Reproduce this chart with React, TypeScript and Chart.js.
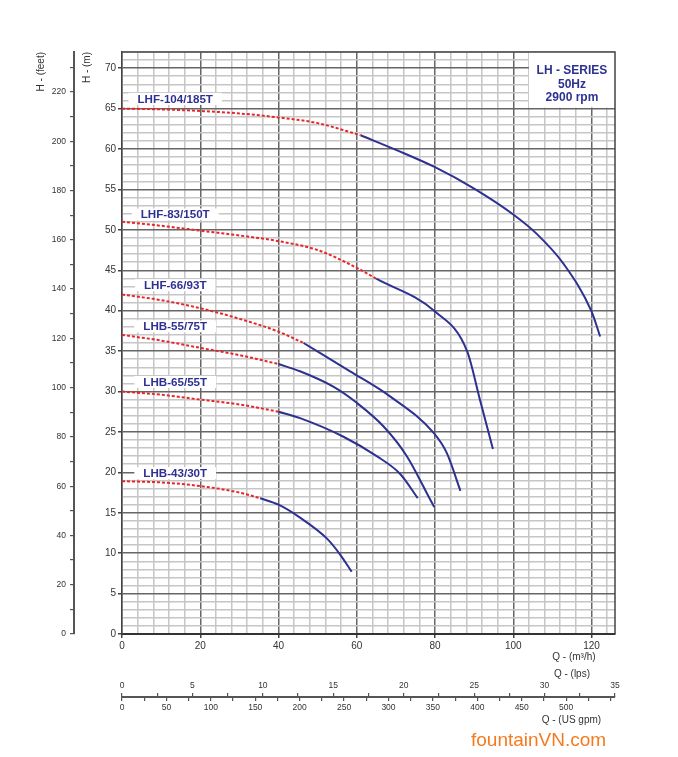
import React, { useEffect, useRef } from 'react';
import { Chart, registerables } from 'chart.js';

Chart.register(...registerables);

const FONT = '"Liberation Sans", Arial, Helvetica, sans-serif';
const BLUE = '#2e3192';
const RED = '#e8262a';
const MAJOR = '#666666';
const MINOR = '#c6c6c6';
const AXIS_TXT = '#333333';

// ---- axis ranges / ticks ----
const Q_MAX = 126; // m3/h
const H_MAX = 72; // m
const FT_MAX = 236.2; // feet (same height as 72 m)
const LPS_MAX = 35;
const GPM_MAX = 555;

// ---- pump names and label anchors (Q m3/h, H m) ----
const pumpNames = ['LHF-104/185T', 'LHF-83/150T', 'LHF-66/93T', 'LHB-55/75T', 'LHB-65/55T', 'LHB-43/30T'];
const labelQ = [13.6, 13.6, 13.6, 13.6, 13.6, 13.6];
const labelH = [66.2, 51.9, 43.15, 38.06, 31.18, 19.9];

// ---- LHF-104/185T ----
const q104Dot = [0, 10, 20, 30, 40, 50, 61];
const h104Dot = [65, 64.9, 64.7, 64.4, 63.9, 63.2, 61.7];
const q104 = [61, 70, 80, 90, 100, 106, 113, 120, 122.2];
const h104 = [61.7, 59.9, 57.75, 55.1, 51.9, 49.5, 45.7, 39.9, 36.8];

// ---- LHF-83/150T ----
const q83Dot = [0, 10, 20, 30, 40, 50, 60, 65];
const h83Dot = [51, 50.5, 49.9, 49.3, 48.6, 47.5, 45.3, 43.95];
const q83 = [65, 80, 88.2, 91.5, 94.8];
const h83 = [43.95, 39.9, 35.0, 28.95, 22.9];

// ---- LHF-66/93T ----
const q66Dot = [0, 10, 20, 30, 40, 46.4];
const h66Dot = [42, 41.3, 40.3, 39.0, 37.4, 36.0];
const q66 = [46.4, 58.3, 68.5, 79.6, 83, 86.5];
const h66 = [36.0, 32.5, 29.4, 24.9, 22.4, 17.7];

// ---- LHB-55/75T ----
const q55Dot = [0, 10, 20, 30, 40];
const h55Dot = [37, 36.3, 35.4, 34.5, 33.4];
const q55 = [40, 45.5, 54, 60, 66.8, 72.8, 78.8, 79.8];
const h55 = [33.4, 32.5, 30.6, 28.6, 25.7, 22.0, 16.6, 15.7];

// ---- LHB-65/55T ----
const q65Dot = [0, 10, 20, 30, 40];
const h65Dot = [30, 29.6, 29.0, 28.4, 27.5];
const q65 = [40, 45.5, 56.6, 65.1, 71.1, 75.6];
const h65 = [27.5, 26.7, 24.4, 22.0, 19.8, 16.8];

// ---- LHB-43/30T ----
const q43Dot = [0, 10, 20, 30, 35.3];
const h43Dot = [18.9, 18.75, 18.3, 17.5, 16.8];
const q43 = [35.3, 40, 45.5, 52.4, 55.8, 58.7];
const h43 = [16.8, 16.0, 14.4, 11.8, 9.8, 7.7];

// ---- series info box ----
const infoLines = ['LH - SERIES', '50Hz', '2900 rpm'];
const infoBoxQ = 104;
const infoBoxH = 65;

const curveParts = [
  [q104Dot, h104Dot, q104, h104],
  [q83Dot, h83Dot, q83, h83],
  [q66Dot, h66Dot, q66, h66],
  [q55Dot, h55Dot, q55, h55],
  [q65Dot, h65Dot, q65, h65],
  [q43Dot, h43Dot, q43, h43],
];

const toPts = (q: number[], h: number[]) => q.map((v, i) => ({ x: v, y: h[i] }));

const decorPlugin = {
  id: 'decor',
  beforeDatasetsDraw(chart: any) {
    const { ctx, chartArea: a, scales } = chart;
    const xs = scales.x;
    const ys = scales.y;
    ctx.save();
    // info box
    const bx = xs.getPixelForValue(infoBoxQ);
    const by = ys.getPixelForValue(infoBoxH);
    ctx.fillStyle = '#ffffff';
    ctx.fillRect(bx, a.top, a.right - bx, by - a.top - 1);
    ctx.fillStyle = BLUE;
    ctx.font = `bold 12px ${FONT}`;
    ctx.textAlign = 'center';
    ctx.textBaseline = 'middle';
    const cx = (bx + a.right) / 2;
    infoLines.forEach((t, i) => ctx.fillText(t, cx, a.top + 19 + i * 13.3));
    // curve labels
    ctx.font = `bold 11.6px ${FONT}`;
    pumpNames.forEach((name, i) => {
      const px = xs.getPixelForValue(labelQ[i]);
      const py = ys.getPixelForValue(labelH[i]);
      const w = ctx.measureText(name).width;
      ctx.fillStyle = '#ffffff';
      ctx.fillRect(px - w / 2 - 9, py - 6, w + 18, 12);
      ctx.fillStyle = BLUE;
      ctx.fillText(name, px, py + 0.5);
    });
    // frame (top + right)
    ctx.strokeStyle = '#444';
    ctx.lineWidth = 1.5;
    ctx.beginPath();
    ctx.moveTo(a.left, a.top);
    ctx.lineTo(a.right, a.top);
    ctx.lineTo(a.right, a.bottom);
    ctx.stroke();
    ctx.restore();
  },
};

const transparent = 'rgba(0,0,0,0)';

export default function App() {
  const canvasRef = useRef<HTMLCanvasElement | null>(null);

  useEffect(() => {
    if (!canvasRef.current) return;
    Chart.defaults.font.family = FONT;
    const datasets: any[] = [];
    curveParts.forEach(([qd, hd, qs, hs], i) => {
      datasets.push({
        label: pumpNames[i] + ' (dotted)',
        data: toPts(qd, hd),
        borderColor: RED,
        borderWidth: 2,
        borderDash: [3, 2],
        pointRadius: 0,
        cubicInterpolationMode: 'monotone',
        fill: false,
      });
      datasets.push({
        label: pumpNames[i],
        data: toPts(qs, hs),
        borderColor: BLUE,
        borderWidth: 2,
        pointRadius: 0,
        cubicInterpolationMode: 'monotone',
        fill: false,
      });
    });

    const chart = new Chart(canvasRef.current, {
      type: 'line',
      data: { datasets },
      plugins: [decorPlugin],
      options: {
        animation: false,
        responsive: true,
        maintainAspectRatio: false,
        events: [],
        layout: { padding: { left: 30, right: 63, top: 52, bottom: 29 } },
        plugins: { legend: { display: false }, tooltip: { enabled: false } },
        scales: {
          x: {
            type: 'linear',
            position: 'bottom',
            weight: 0,
            min: 0,
            max: Q_MAX,
            afterFit: (s: any) => { s.height = 59; },
            ticks: {
              stepSize: 4,
              includeBounds: false,
              autoSkip: false,
              maxRotation: 0,
              padding: 2,
              color: AXIS_TXT,
              font: { size: 10 },
              callback: (v: any) => (Number(v) % 20 === 0 ? String(v) : ''),
            },
            grid: {
              color: (c: any) => (c.tick && c.tick.value % 20 === 0 ? MAJOR : MINOR),
              lineWidth: 1.5,
              tickLength: 4,
              tickColor: (c: any) => (c.tick && c.tick.value % 20 === 0 ? '#444' : transparent),
            },
            border: { display: true, color: '#333', width: 2 },
            title: {
              display: true,
              text: ['Q - (m³/h)       ', 'Q - (lps)         '],
              align: 'end',
              color: AXIS_TXT,
              font: { size: 10, lineHeight: 1.7 },
              padding: { top: 0, bottom: 10 },
            },
          },
          lps: {
            type: 'linear',
            axis: 'x',
            position: 'bottom',
            weight: 1,
            min: 0,
            max: LPS_MAX,
            afterFit: (s: any) => { s.height = 4; },
            ticks: {
              stepSize: 2.5,
              includeBounds: false,
              autoSkip: false,
              maxRotation: 0,
              mirror: true,
              padding: 2,
              color: AXIS_TXT,
              font: { size: 8.5 },
              callback: (v: any) => (Number(v) % 5 === 0 ? String(v) : ''),
            },
            grid: { drawOnChartArea: false, tickLength: 4, tickColor: '#555', lineWidth: 1.2 },
            border: { display: false },
          },
          gpm: {
            type: 'linear',
            axis: 'x',
            position: 'bottom',
            weight: 2,
            min: 0,
            max: GPM_MAX,
            afterFit: (s: any) => { s.height = 31; },
            ticks: {
              stepSize: 25,
              includeBounds: false,
              autoSkip: false,
              maxRotation: 0,
              padding: 2,
              color: AXIS_TXT,
              font: { size: 8.5 },
              callback: (v: any) => (Number(v) % 50 === 0 && Number(v) <= 500 ? String(v) : ''),
            },
            grid: { drawOnChartArea: false, tickLength: 4, tickColor: '#555', lineWidth: 1.2 },
            border: { display: true, color: '#555', width: 2 },
            title: {
              display: true,
              text: 'Q - (US gpm)     ',
              align: 'end',
              color: AXIS_TXT,
              font: { size: 10 },
              padding: { top: 0, bottom: 2 },
            },
          },
          y: {
            type: 'linear',
            position: 'left',
            weight: 0,
            min: 0,
            max: H_MAX,
            afterFit: (s: any) => { s.width = 48; },
            ticks: {
              stepSize: 1,
              includeBounds: false,
              autoSkip: false,
              padding: 2,
              color: AXIS_TXT,
              font: { size: 10 },
              callback: (v: any) => (Number(v) % 5 === 0 && Number(v) <= 70 ? String(v) : ''),
            },
            grid: {
              color: (c: any) => (c.tick && c.tick.value % 5 === 0 ? MAJOR : MINOR),
              lineWidth: 1.5,
              tickLength: 4,
              tickColor: (c: any) => (c.tick && c.tick.value % 5 === 0 && c.tick.value <= 70 ? '#444' : transparent),
            },
            border: { display: true, color: '#444', width: 1.5 },
            title: {
              display: true,
              text: 'H - (m)',
              align: 'end',
              color: AXIS_TXT,
              font: { size: 10 },
              padding: { top: 7, bottom: 0 },
            },
          },
          yft: {
            type: 'linear',
            axis: 'y',
            position: 'left',
            weight: 1,
            min: 0,
            max: FT_MAX,
            afterFit: (s: any) => { s.width = 44; },
            ticks: {
              stepSize: 10,
              includeBounds: false,
              autoSkip: false,
              padding: 4,
              color: AXIS_TXT,
              font: { size: 8.5 },
              callback: (v: any) => (Number(v) % 20 === 0 ? String(v) : ''),
            },
            grid: { drawOnChartArea: false, tickLength: 4, tickColor: '#555', lineWidth: 1.2 },
            border: { display: true, color: '#555', width: 2 },
            title: {
              display: true,
              text: 'H - (feet)',
              align: 'end',
              color: AXIS_TXT,
              font: { size: 10 },
              padding: { top: 5, bottom: 0 },
            },
          },
        },
      } as any,
    });
    return () => chart.destroy();
  }, []);

  return (
    <div style={{ position: 'absolute', left: 0, top: 0, width: 678, height: 757, background: '#fff' }}>
      <canvas ref={canvasRef} />
      <div
        style={{
          position: 'absolute',
          left: 471,
          top: 729,
          font: `19px ${FONT}`,
          lineHeight: '22px',
          color: '#f47b20',
          whiteSpace: 'nowrap',
        }}
      >
        fountainVN.com
      </div>
    </div>
  );
}
